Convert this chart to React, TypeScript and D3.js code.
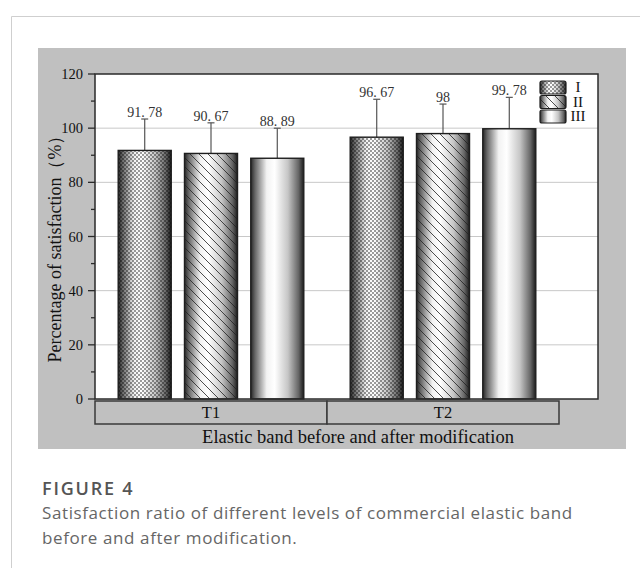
import * as d3 from "d3"

const GROUPS = ["T1", "T2"]
const LEVELS = ["I", "II", "III"]
const VALUES = [
  [91.78, 90.67, 88.89],
  [96.67, 98, 99.78],
]
const ERRORS = [
  [11.6, 11.3, 11.1],
  [14.0, 10.9, 11.6],
]
const VALUE_LABELS = [
  ["91. 78", "90. 67", "88. 89"],
  ["96. 67", "98", "99. 78"],
]
const Y_TICKS = [0, 20, 40, 60, 80, 100, 120]
const Y_MINOR = [10, 30, 50, 70, 90, 110]
const Y_GRID = [20, 40, 60, 80, 100]

const W = 640
const H = 568
const PLOT_L = 95
const PLOT_R = 598
const PLOT_T = 74
const PLOT_B = 399
const CAT_R = 559

const SERIF = "'Liberation Serif', 'DejaVu Serif', serif"
const SANS = "'Open Sans', 'Noto Sans', sans-serif"

const FILLS = ["url(#checker)", "url(#hatch)", null]

export default function App() {
  const y = d3.scaleLinear().domain([0, 120]).range([PLOT_B, PLOT_T])
  const x0 = d3.scaleBand().domain(GROUPS).range([PLOT_L, CAT_R])
  const x1 = d3
    .scaleBand()
    .domain(LEVELS)
    .range([0, x0.bandwidth()])
    .paddingInner(0.2)
    .paddingOuter(0.35)

  const yMid = (PLOT_T + PLOT_B) / 2 + 8

  return (
    <div style={{ position: "fixed", left: 0, top: 0 }}>
      <svg width={W} height={H} style={{ display: "block" }}>
        <defs>
          <linearGradient id="cyl" x1="0" x2="1" y1="0" y2="0">
            <stop offset="0" stopColor="#262626" />
            <stop offset="0.08" stopColor="#666" />
            <stop offset="0.3" stopColor="#f2f2f2" />
            <stop offset="0.45" stopColor="#fff" />
            <stop offset="0.7" stopColor="#c6c6c6" />
            <stop offset="0.9" stopColor="#666" />
            <stop offset="1" stopColor="#1c1c1c" />
          </linearGradient>
          <pattern id="checker" patternUnits="userSpaceOnUse" width="4" height="4">
            <rect x="0" y="0" width="2" height="2" fill="#000" fillOpacity="0.38" />
            <rect x="2" y="2" width="2" height="2" fill="#000" fillOpacity="0.38" />
          </pattern>
          <pattern id="hatch" patternUnits="userSpaceOnUse" width="9" height="9">
            <path
              d="M-2,-2 L11,11 M-2,7 L2,11 M7,-2 L11,2"
              stroke="#222"
              strokeWidth="0.8"
              fill="none"
            />
          </pattern>
        </defs>

        {/* card */}
        <rect x={0} y={0} width={W} height={H} fill="#fff" />
        <path d={`M11.5,${H} V16.5 H${W}`} fill="none" stroke="#cfcfcf" strokeWidth={1} />

        {/* gray panel */}
        <rect x={38} y={48} width={588} height={401} fill="#c0c0c0" />

        {/* plot area */}
        <rect x={PLOT_L} y={PLOT_T} width={PLOT_R - PLOT_L} height={PLOT_B - PLOT_T} fill="#fff" />

        {Y_GRID.map((t) => (
          <line key={t} x1={PLOT_L} x2={PLOT_R} y1={y(t)} y2={y(t)} stroke="#c8c8c8" strokeWidth={1} />
        ))}

        {/* bars */}
        {GROUPS.map((g, gi) =>
          LEVELS.map((lv, li) => {
            const bx = x0(g)! + x1(lv)!
            const bw = x1.bandwidth()
            const v = VALUES[gi][li]
            const top = y(v)
            const cap = y(v + ERRORS[gi][li])
            const cx = bx + bw / 2
            const overlay = FILLS[li]
            return (
              <g key={g + lv}>
                <line x1={cx} x2={cx} y1={top} y2={cap} stroke="#555" strokeWidth={1.2} />
                <line x1={cx - 3.5} x2={cx + 3.5} y1={cap} y2={cap} stroke="#555" strokeWidth={1.2} />
                <rect x={bx} y={top} width={bw} height={PLOT_B - top} fill="url(#cyl)" />
                {overlay && <rect x={bx} y={top} width={bw} height={PLOT_B - top} fill={overlay} />}
                <rect
                  x={bx}
                  y={top}
                  width={bw}
                  height={PLOT_B - top}
                  fill="none"
                  stroke="#1e1e1e"
                  strokeWidth={1.4}
                />
                <text
                  x={cx}
                  y={cap - 2}
                  textAnchor="middle"
                  fontFamily={SERIF}
                  fontSize={14}
                  fill="#333"
                >
                  {VALUE_LABELS[gi][li]}
                </text>
              </g>
            )
          })
        )}

        {/* frame */}
        <rect
          x={PLOT_L}
          y={PLOT_T}
          width={PLOT_R - PLOT_L}
          height={PLOT_B - PLOT_T}
          fill="none"
          stroke="#2a2a2a"
          strokeWidth={1.5}
        />

        {/* y ticks */}
        {Y_TICKS.map((t) => (
          <g key={t}>
            <line x1={PLOT_L - 7} x2={PLOT_L} y1={y(t)} y2={y(t)} stroke="#2a2a2a" strokeWidth={1.3} />
            <text
              x={PLOT_L - 12}
              y={y(t)}
              dy="0.35em"
              textAnchor="end"
              fontFamily={SERIF}
              fontSize={14.5}
              fill="#111"
            >
              {t}
            </text>
          </g>
        ))}
        {Y_MINOR.map((t) => (
          <line key={t} x1={PLOT_L - 4} x2={PLOT_L} y1={y(t)} y2={y(t)} stroke="#2a2a2a" strokeWidth={1.3} />
        ))}

        {/* category boxes */}
        {GROUPS.map((g) => (
          <g key={g}>
            <rect
              x={x0(g)!}
              y={PLOT_B + 2}
              width={x0.bandwidth()}
              height={23}
              fill="#c0c0c0"
              stroke="#3a3a3a"
              strokeWidth={1.5}
            />
            <text
              x={x0(g)! + x0.bandwidth() / 2}
              y={PLOT_B + 19}
              textAnchor="middle"
              fontFamily={SERIF}
              fontSize={16.5}
              fill="#111"
            >
              {g}
            </text>
          </g>
        ))}

        {/* axis titles */}
        <text
          x={358}
          y={443}
          textAnchor="middle"
          fontFamily={SERIF}
          fontSize={18.5}
          fill="#111"
        >
          Elastic band before and after modification
        </text>
        <text
          transform={`translate(61,${yMid}) rotate(-90)`}
          textAnchor="middle"
          fontFamily={SERIF}
          fontSize={18}
          fill="#111"
        >
          Percentage of satisfaction（%）
        </text>

        {/* legend */}
        {LEVELS.map((lv, li) => {
          const ly = 81 + li * 14.5
          const overlay = FILLS[li]
          return (
            <g key={lv}>
              <rect x={540} y={ly} width={26} height={13} rx={2} fill="url(#cyl)" />
              {overlay && <rect x={540} y={ly} width={26} height={13} rx={2} fill={overlay} />}
              <rect x={540} y={ly} width={26} height={13} rx={2} fill="none" stroke="#1e1e1e" strokeWidth={1.2} />
              <text
                x={578}
                y={ly + 11}
                textAnchor="middle"
                fontFamily={SERIF}
                fontSize={15}
                fill="#111"
              >
                {lv}
              </text>
            </g>
          )
        })}

        {/* caption */}
        <text
          x={42}
          y={495}
          fontFamily={SANS}
          fontSize={18}
          fontWeight={600}
          letterSpacing={1.8}
          fill="#555"
        >
          FIGURE 4
        </text>
        <text x={42} y={519} fontFamily={SANS} fontSize={17} letterSpacing={0.6} fill="#666">
          Satisfaction ratio of different levels of commercial elastic band
        </text>
        <text x={42} y={544} fontFamily={SANS} fontSize={17} letterSpacing={0.6} fill="#666">
          before and after modification.
        </text>
      </svg>
    </div>
  )
}
